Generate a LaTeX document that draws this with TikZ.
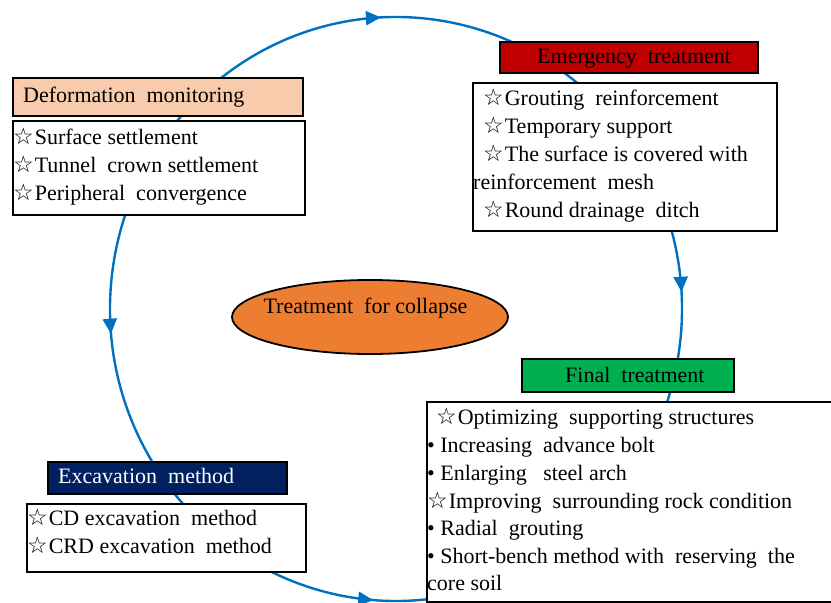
\documentclass[tikz,border=0pt]{standalone}
\usepackage{fontspec}
\setmainfont{Liberation Serif}
\newfontfamily\starfont{DejaVu Sans}
\usetikzlibrary{arrows.meta,decorations.markings,shapes.geometric}
\definecolor{cblue}{RGB}{0,112,192}
\definecolor{peach}{RGB}{248,203,173}
\definecolor{dred}{RGB}{192,0,0}
\definecolor{fgreen}{RGB}{0,176,80}
\definecolor{navy}{RGB}{0,32,96}
\definecolor{orng}{RGB}{237,125,49}
\newcommand\wst{{\starfont\fontsize{23}{23}\selectfont ☆}\kern1pt}
\tikzset{
  flow/.style={draw=cblue, line width=2.4pt},
  cyctip/.tip={Triangle[length=15pt,width=14pt]},
  box/.style={draw=black, line width=1.8pt, anchor=north west, inner sep=0pt},
  txt/.style={anchor=base west, inner sep=0pt, font=\fontsize{22}{28}\selectfont},
}
\begin{document}
\begin{tikzpicture}[x=1pt,y=-1pt]
\useasboundingbox (0,0) rectangle (831,603);
% cycle arcs
\draw[flow, decoration={markings,
    mark=at position 0.16 with {\arrow[cblue]{cyctip}},
    mark=at position 0.585 with {\arrow[cblue]{cyctip}}}, postaction=decorate]
  ([shift={(396,309)}]-127:286 and 292) arc[start angle=-127, end angle=84, x radius=286, y radius=292];
\draw[flow, decoration={markings,
    mark=at position 0.39 with {\arrow[cblue]{cyctip}},
    mark=at position 0.93 with {\arrow[cblue]{cyctip}}}, postaction=decorate]
  ([shift={(396,309)}]233:286 and 292) arc[start angle=233, end angle=84, x radius=286, y radius=292];

% centre
\node[ellipse, draw=black, line width=1.8pt, fill=orng, minimum width=276pt, minimum height=74pt] (core) at (370,317) {};
\node[anchor=base, inner sep=0pt, font=\fontsize{22}{28}\selectfont] (coret) at (365.5,313) {Treatment\ \ for collapse};

% deformation monitoring
\node[box, fill=peach, minimum width=290pt, minimum height=38pt] (dmh) at (12,77) {};
\node[txt] (dmt) at (23,102) {Deformation\ \ monitoring};
\node[box, fill=white, minimum width=292pt, minimum height=94pt] (dml) at (12,120) {};
\node[txt] (dm1) at (13,144) {\wst Surface settlement};
\node[txt] (dm2) at (13,172) {\wst Tunnel\ \ crown settlement};
\node[txt] (dm3) at (13,200) {\wst Peripheral\ \ convergence};

% emergency treatment
\node[box, fill=dred, minimum width=258pt, minimum height=31pt] (eth) at (499,41) {};
\node[txt] (ett) at (537,63) {Emergency\ \ treatment};
\node[box, fill=white, minimum width=304pt, minimum height=148pt] (etl) at (472,82) {};
\node[txt] (et1) at (483,105) {\wst Grouting\ \ reinforcement};
\node[txt] (et2) at (483,133) {\wst Temporary support};
\node[txt] (et3) at (483,161) {\wst The surface is covered with};
\node[txt] (et4) at (473,189) {reinforcement\ \ mesh};
\node[txt] (et5) at (483,217) {\wst Round drainage\ \ ditch};

% final treatment
\node[box, fill=fgreen, minimum width=212pt, minimum height=33pt] (fth) at (521,358) {};
\node[txt] (ftt) at (565,382) {Final\ \ treatment};
\node[box, fill=white, minimum width=430pt, minimum height=200pt] (ftl) at (426,401) {};
\node[txt] (ft1) at (436,424) {\wst Optimizing\ \ supporting structures};
\node[txt] (ft2) at (427,452) {• Increasing\ \ advance bolt};
\node[txt] (ft3) at (427,480) {• Enlarging\ \ \ steel arch};
\node[txt] (ft4) at (427,508) {\wst Improving\ \ surrounding rock condition};
\node[txt] (ft5) at (427,535) {• Radial\ \ grouting};
\node[txt] (ft6) at (427,563) {• Short-bench method with\ \ reserving\ \ the};
\node[txt] (ft7) at (427,590) {core soil};

% excavation method
\node[box, fill=navy, minimum width=239pt, minimum height=32pt] (emh) at (47,461) {};
\node[txt, text=white] (emt) at (58,483) {Excavation\ \ method};
\node[box, fill=white, minimum width=279pt, minimum height=68pt] (eml) at (26,503) {};
\node[txt] (em1) at (27,525) {\wst CD excavation\ \ method};
\node[txt] (em2) at (27,553) {\wst CRD excavation\ \ method};
\end{tikzpicture}
\end{document}
